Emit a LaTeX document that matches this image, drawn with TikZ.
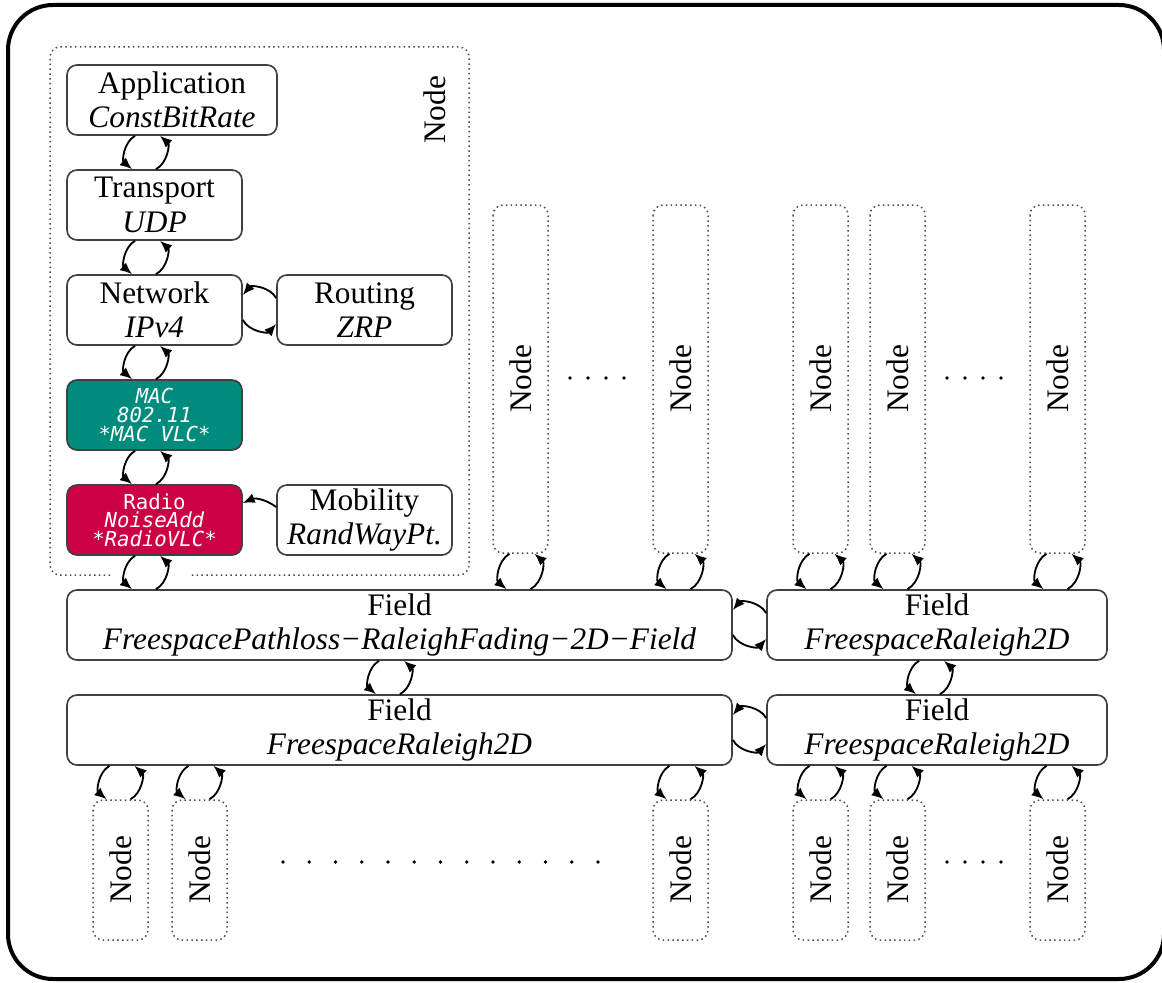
\documentclass[tikz,border=0pt]{standalone}
\usepackage{fontspec}
\setmainfont{Liberation Serif}
\newfontfamily\monofont{DejaVu Sans Mono}
\usetikzlibrary{arrows.meta}
\definecolor{macteal}{RGB}{0,140,125}
\definecolor{radiored}{RGB}{204,0,68}
\definecolor{boxgray}{gray}{0.25}
\definecolor{dotgray}{gray}{0.3}

\tikzset{
  layer/.style={draw=boxgray, line width=0.5pt, rounded corners=3pt, fill=white,
    align=center, inner sep=0pt, minimum width=52.5pt, minimum height=21pt,
    font=\fontsize{9.4}{10.3}\selectfont},
  wide/.style={minimum width=63pt},
  field/.style={layer, minimum width=199.5pt},
  smallfield/.style={layer, minimum width=102pt},
  mono/.style={layer, text=white, font=\monofont\fontsize{6.2}{5.6}\selectfont},
  host/.style={draw=dotgray, densely dotted, line width=0.45pt, rounded corners=3pt,
    rotate=90, inner sep=0pt, minimum height=16.5pt,
    font=\fontsize{9.4}{10.3}\selectfont},
  tallhost/.style={host, minimum width=104.4pt},
  shorthost/.style={host, minimum width=42pt},
  link/.style={-{Latex[length=3.6pt,width=3pt]}, line width=0.55pt, bend right=55},
}

% two arrows between an upper and a lower box, around x = #1
\newcommand{\vloops}[3]{%
  \draw[link] (#1-11,0 |- #2) to (#1-14,0 |- #3);
  \draw[link] (#1+10,0 |- #3) to (#1+14,0 |- #2);}
% two arrows between a left and a right box, around y = #1
\newcommand{\hloops}[3]{%
  \draw[link] (#3.west |- 0,#1-12) to (#2.east |- 0,#1-15);
  \draw[link] (#2.east |- 0,#1+10) to (#3.west |- 0,#1+14);}

\begin{document}
\begin{tikzpicture}[x=0.3pt,y=-0.3pt]
\useasboundingbox (0,0) rectangle (1162,983);
\draw[line width=1.2pt, rounded corners=13.5pt] (8,5) rectangle (1164,979);

% the node in detail
\draw[draw=dotgray, densely dotted, line width=0.45pt, rounded corners=3pt]
  (110,575) -- (50,575) -- (50,47) -- (469,47) -- (469,575) -- (190,575);
\node[rotate=90, font=\fontsize{9.4}{10.3}\selectfont] (nodelabel) at (435,110) {Node};

\node[layer, wide] (app) at (172,100) {Application\\\textit{ConstBitRate}};
\node[layer] (trans) at (154.5,205) {Transport\\\textit{UDP}};
\node[layer] (net) at (154.5,310) {Network\\\textit{IPv4}};
\node[layer] (rout) at (364.5,310) {Routing\\\textit{ZRP}};
\node[mono, fill=macteal] (mac) at (154.5,415) {\textit{MAC}\\\textit{802.11}\\\textit{*MAC VLC*}};
\node[mono, fill=radiored] (radio) at (154.5,520) {Radio\\\textit{NoiseAdd}\\\textit{*RadioVLC*}};
\node[layer] (mob) at (364.5,520) {Mobility\\\textit{RandWayPt.}};

% fields
\node[field] (f1) at (399.5,625) {Field\\\textit{FreespacePathloss−RaleighFading−2D−Field}};
\node[smallfield] (f2) at (937,625) {Field\\\textit{FreespaceRaleigh2D}};
\node[field] (f3) at (399.5,730) {Field\\\textit{FreespaceRaleigh2D}};
\node[smallfield] (f4) at (937,730) {Field\\\textit{FreespaceRaleigh2D}};

% other nodes (rotated: west is the bottom, east the top)
\foreach \x/\n in {520.5/1, 680.5/2, 820.5/3, 897.5/4, 1057.5/5}
  \node[tallhost] (up\n) at (\x,379) {Node};
\foreach \x/\n in {120.5/1, 199.5/2, 680.5/3, 820.5/4, 897.5/5, 1057.5/6}
  \node[shorthost] (lo\n) at (\x,870) {Node};

% dots
\foreach \x in {570,588,606,624,947,965,983,1001}
  \fill (\x,378) circle (0.55pt);
\foreach \x in {947,965,983,1001}
  \fill (\x,862) circle (0.55pt);
\foreach \i in {0,...,12}
  \fill (283+26.25*\i,862) circle (0.55pt);

% arrows
\vloops{146}{app.south}{trans.north}
\vloops{146}{trans.south}{net.north}
\vloops{146}{net.south}{mac.north}
\vloops{146}{mac.south}{radio.north}
\vloops{146}{radio.south}{f1.north}
\hloops{310}{net}{rout}
\draw[link, bend right=30] (mob.west |- 0,507) to (radio.east |- 0,503);
\vloops{520.5}{up1.west}{f1.north}
\vloops{680.5}{up2.west}{f1.north}
\vloops{820.5}{up3.west}{f2.north}
\vloops{897.5}{up4.west}{f2.north}
\vloops{1057.5}{up5.west}{f2.north}
\hloops{625}{f1}{f2}
\hloops{730}{f3}{f4}
\vloops{390}{f1.south}{f3.north}
\vloops{930}{f2.south}{f4.north}
\vloops{120.5}{f3.south}{lo1.east}
\vloops{199.5}{f3.south}{lo2.east}
\vloops{680.5}{f3.south}{lo3.east}
\vloops{820.5}{f4.south}{lo4.east}
\vloops{897.5}{f4.south}{lo5.east}
\vloops{1057.5}{f4.south}{lo6.east}
\end{tikzpicture}
\end{document}
